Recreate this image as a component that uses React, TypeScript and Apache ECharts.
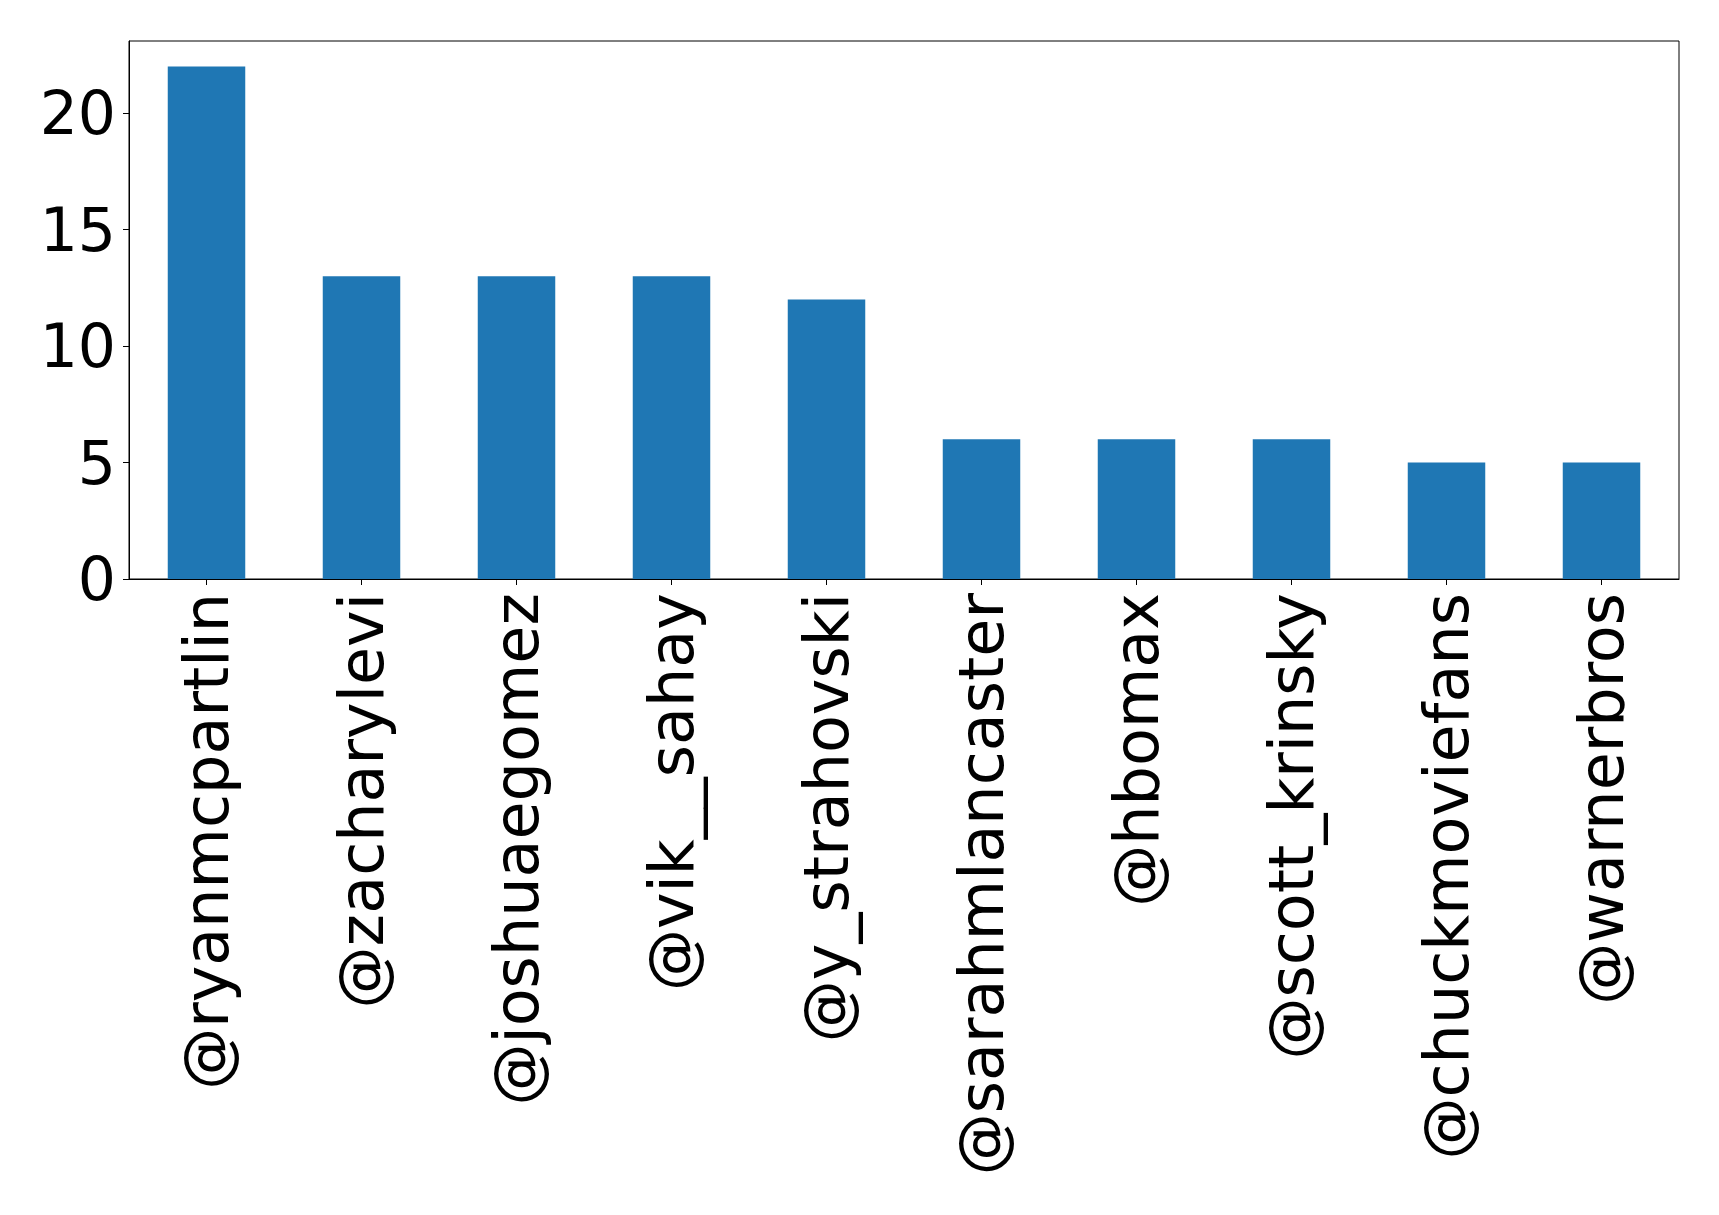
import React, { useEffect, useRef } from "react";
import * as echarts from "echarts";

const categories = [
  "@ryanmcpartlin",
  "@zacharylevi",
  "@joshuaegomez",
  "@vik__sahay",
  "@y_strahovski",
  "@sarahmlancaster",
  "@hbomax",
  "@scott_krinsky",
  "@chuckmoviefans",
  "@warnerbros",
];
const counts = [22, 13, 13, 13, 12, 6, 6, 6, 5, 5];
const yTicks = [0, 5, 10, 15, 20];

export default function App() {
  const ref = useRef<HTMLDivElement>(null);
  useEffect(() => {
    if (!ref.current) return;
    const chart = echarts.init(ref.current, null, { renderer: "svg" });
    const font = "DejaVu Sans";
    chart.setOption({
      animation: false,
      backgroundColor: "#ffffff",
      grid: {
        left: 129,
        top: 41,
        right: 40,
        bottom: 636,
        show: true,
        borderColor: "#000000",
        borderWidth: 1,
        containLabel: false,
      },
      xAxis: {
        type: "category",
        data: categories,
        boundaryGap: true,
        axisLine: { show: true, lineStyle: { color: "#000000", width: 1 } },
        axisTick: { show: true, alignWithLabel: true, length: 6, lineStyle: { color: "#000000", width: 1 } },
        axisLabel: {
          rotate: 90,
          interval: 0,
          fontSize: 62,
          fontFamily: font,
          color: "#000000",
          margin: 14,
        },
        splitLine: { show: false },
      },
      yAxis: {
        type: "value",
        min: 0,
        max: 23.1,
        interval: 5,
        axisLine: { show: true, lineStyle: { color: "#000000", width: 1 } },
        axisTick: { show: true, length: 6, customValues: yTicks, lineStyle: { color: "#000000", width: 1 } },
        axisLabel: {
          fontSize: 60,
          fontFamily: font,
          color: "#000000",
          margin: 13,
          customValues: yTicks,
        },
        splitLine: { show: false },
      },
      series: [
        {
          type: "bar",
          data: counts,
          barWidth: "50%",
          itemStyle: { color: "#1f77b4" },
        },
      ],
    });
    return () => chart.dispose();
  }, []);
  return (
    <div
      ref={ref}
      style={{ position: "absolute", left: 0, top: 0, width: 1719, height: 1215 }}
    />
  );
}
